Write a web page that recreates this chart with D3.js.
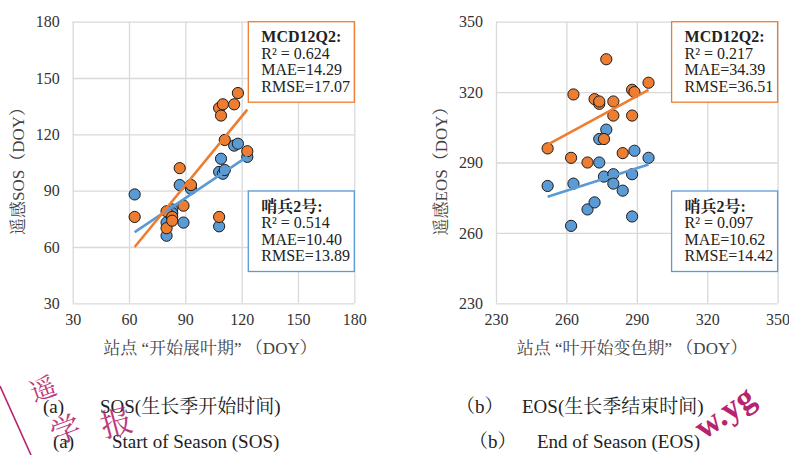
<!DOCTYPE html>
<html>
<head>
<meta charset="utf-8">
<script src="https://cdn.jsdelivr.net/npm/d3@7"></script>
<style>
  body { margin: 0; background: #fff; }
</style>
</head>
<body>
<svg width="789" height="455"></svg>
<script>
// SOS panel (a)
var sosTicks = [30, 60, 90, 120, 150, 180];
var sosStation = [63, 80, 80, 83, 83, 87, 89, 93, 108, 108, 109, 110, 111, 116, 118, 123];
var sosMCD     = [76, 79, 70, 76, 74, 102, 82, 93, 76, 134, 130, 136, 117, 136, 142, 111];
var sosS2      = [88, 73, 66, 80, 78, 93, 73, 91, 71, 100, 107, 99, 101, 114, 115, 108];
var sosFitMCD = [1.219, -16.8];   // slope, intercept
var sosFitS2  = [0.67, 25.7];
var sosStatsMCD = ["MCD12Q2:", "R² = 0.624", "MAE=14.29", "RMSE=17.07"];
var sosStatsS2  = ["哨兵2号:", "R² = 0.514", "MAE=10.40", "RMSE=13.89"];

// EOS panel (b)
var eosTicks = [230, 260, 290, 320, 350];
var eosStation = [252, 262, 263, 269, 272, 274, 274, 276, 277, 280, 280, 284, 288, 288, 289, 295];
var eosMCD     = [296, 292, 319, 290, 317, 315, 316, 300, 334, 316, 310, 294, 321, 310, 320, 324];
var eosS2      = [280, 263, 281, 270, 273, 290, 300, 284, 304, 285, 281, 278, 285, 267, 295, 292];
var eosFitMCD = [0.544, 160.5];
var eosFitS2  = [0.321, 194.5];
var eosStatsMCD = ["MCD12Q2:", "R² = 0.217", "MAE=34.39", "RMSE=36.51"];
var eosStatsS2  = ["哨兵2号:", "R² = 0.097", "MAE=10.62", "RMSE=14.42"];

var orange = "#ed7d31", blue = "#5b9bd5", grid = "#d9d9d9";
var FONT = "'Liberation Serif', 'Noto Serif CJK SC', serif";
var svg = d3.select("svg");

function panel(opt) {
    var x = d3.scaleLinear().domain(d3.extent(opt.ticks)).range([opt.left, opt.left + 281.6]);
    var y = d3.scaleLinear().domain(d3.extent(opt.ticks)).range([303.3, 21.7]);
    var g = svg.append("g");

    // grid + tick labels
    var xa = g.append("g").attr("transform", "translate(0,303.3)")
        .call(d3.axisBottom(x).tickValues(opt.ticks).tickSize(-281.6).tickPadding(10));
    var ya = g.append("g").attr("transform", "translate(" + opt.left + ",0)")
        .call(d3.axisLeft(y).tickValues(opt.ticks).tickSize(-281.6).tickPadding(13));
    [xa, ya].forEach(function(a) {
        a.attr("font-family", FONT);
        a.select(".domain").remove();
        a.selectAll("line").attr("stroke", grid).attr("stroke-width", 1.3);
        a.selectAll("text").attr("font-size", 16).attr("fill", "#333");
    });

    // points
    [[opt.s2, blue], [opt.mcd, orange]].forEach(function(s) {
        g.selectAll(null).data(opt.station).enter().append("circle")
            .attr("cx", function(d) { return x(d); })
            .attr("cy", function(d, i) { return y(s[0][i]); })
            .attr("r", 5.6)
            .attr("fill", s[1])
            .attr("stroke", "#1a1a1a")
            .attr("stroke-width", 1);
    });

    // trend lines
    var xr = d3.extent(opt.station);
    [[opt.fitS2, blue], [opt.fitMCD, orange]].forEach(function(f) {
        g.append("line")
            .attr("x1", x(xr[0])).attr("y1", y(f[0][0] * xr[0] + f[0][1]))
            .attr("x2", x(xr[1])).attr("y2", y(f[0][0] * xr[1] + f[0][1]))
            .attr("stroke", f[1]).attr("stroke-width", 2.6);
    });

    // stats boxes
    var bx = opt.left + 175.6;
    [[opt.statsMCD, orange, 21.7], [opt.statsS2, blue, 191]].forEach(function(b) {
        var bg = g.append("g").attr("transform", "translate(" + bx + "," + b[2] + ")");
        bg.append("rect").attr("width", 106).attr("height", 80.5)
            .attr("fill", "#fff").attr("stroke", b[1]).attr("stroke-width", 1.3);
        bg.selectAll("text").data(b[0]).enter().append("text")
            .attr("x", 13)
            .attr("y", function(d, i) { return 20.5 + i * 16.5; })
            .attr("font-family", FONT)
            .attr("font-size", 16)
            .attr("font-weight", function(d, i) { return i == 0 ? "bold" : "normal"; })
            .attr("fill", "#222")
            .text(function(d) { return d; });
    });

    // axis titles
    g.append("text").attr("x", opt.xtx).attr("y", 354).attr("text-anchor", "middle")
        .attr("font-family", FONT).attr("font-size", 17).attr("fill", "#444").text(opt.xtitle);
    g.append("text").attr("transform", "translate(" + opt.ytx + ",167) rotate(-90)")
        .attr("text-anchor", "middle").attr("font-family", FONT)
        .attr("font-size", 17).attr("fill", "#444").text(opt.ytitle);
}

panel({ left: 72.7, ticks: sosTicks, station: sosStation, mcd: sosMCD, s2: sosS2,
        fitMCD: sosFitMCD, fitS2: sosFitS2, statsMCD: sosStatsMCD, statsS2: sosStatsS2,
        xtitle: "站点 “开始展叶期” （DOY）", xtx: 210, ytitle: "遥感SOS（DOY）", ytx: 24 });
panel({ left: 496, ticks: eosTicks, station: eosStation, mcd: eosMCD, s2: eosS2,
        fitMCD: eosFitMCD, fitS2: eosFitS2, statsMCD: eosStatsMCD, statsS2: eosStatsS2,
        xtitle: "站点 “叶开始变色期” （DOY）", xtx: 632, ytitle: "遥感EOS（DOY）", ytx: 447 });

// captions
var caps = [
    ["(a)", 43, "SOS(生长季开始时间)", 100, 413],
    ["(a)", 53, "Start of Season (SOS)", 112, 448],
    ["（b）", 456, "EOS(生长季结束时间)", 522, 413],
    ["（b）", 469, "End of Season (EOS)", 537, 448]
];
caps.forEach(function(c) {
    svg.append("text").attr("x", c[1]).attr("y", c[4]).attr("font-family", FONT)
        .attr("font-size", 19).attr("fill", "#222").text(c[0]);
    svg.append("text").attr("x", c[3]).attr("y", c[4]).attr("font-family", FONT)
        .attr("font-size", 19).attr("fill", "#222").text(c[2]);
});

// watermark
var wm = "#b8236e";
svg.append("line").attr("x1", 0).attr("y1", 386).attr("x2", 31).attr("y2", 455)
    .attr("stroke", wm).attr("stroke-width", 1.6);
svg.append("text").attr("transform", "translate(34,402) rotate(-20)")
    .attr("font-size", 26).attr("font-family", FONT).style("fill", wm).attr("opacity", 0.9).text("遥");
svg.append("text").attr("transform", "translate(55,445) rotate(-20)")
    .attr("font-size", 30).attr("font-family", FONT).style("fill", wm).attr("opacity", 0.9).text("学");
svg.append("text").attr("transform", "translate(104,438) rotate(-15)")
    .attr("font-size", 32).attr("font-family", FONT).style("fill", wm).attr("opacity", 0.9).text("报");
svg.append("text").attr("transform", "translate(704,440) rotate(-35)")
    .attr("font-size", 34).attr("font-weight", "bold").attr("font-family", FONT)
    .style("fill", wm).text("w.yg");
</script>
</body>
</html>
